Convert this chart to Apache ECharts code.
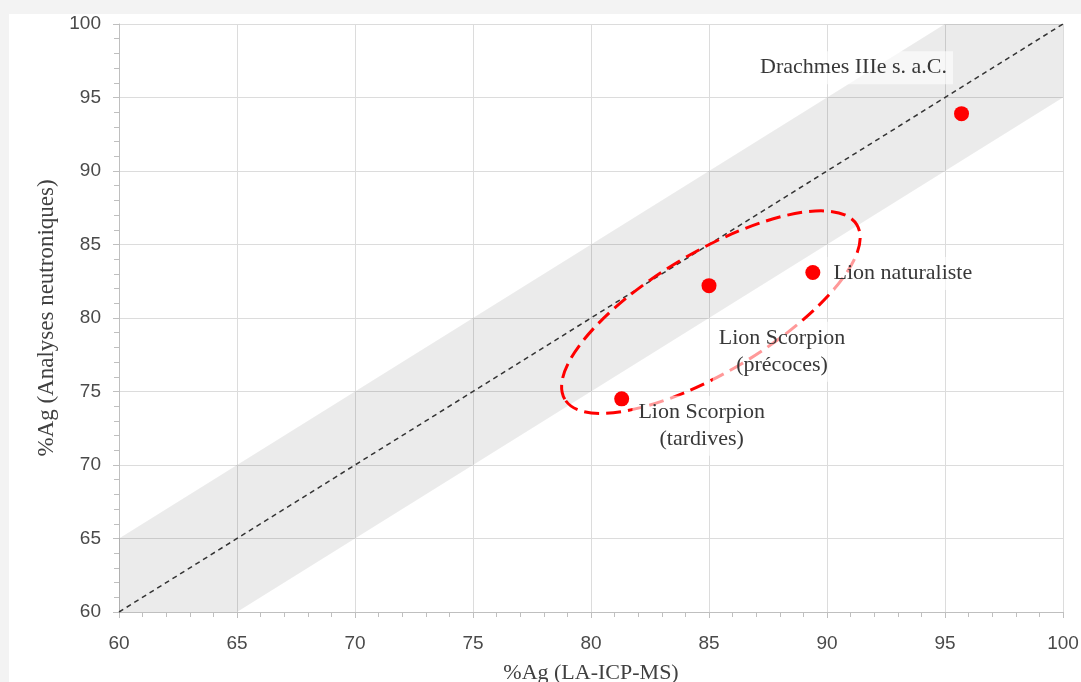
<!DOCTYPE html>
<html><head><meta charset="utf-8">
<script src="https://cdn.jsdelivr.net/npm/echarts@6/dist/echarts.min.js"></script>
<style>
html,body{margin:0;padding:0;background:#f3f3f3;width:1081px;height:682px;overflow:hidden}
#c{position:absolute;left:9px;top:14px;width:1072px;height:668px;background:#fff}
</style></head><body><div id="c"></div>
<script>
// ---- data ----
const pointsX = [95.7, 89.4, 85.0, 81.3];
const pointsY = [93.9, 83.1, 82.2, 74.5];
const pointLabels = ['Drachmes IIIe s. a.C.', 'Lion naturaliste', 'Lion Scorpion\n(précoces)', 'Lion Scorpion\n(tardives)'];
const identityLine = [[60, 60], [100, 100]];
const bandPolygon = [[60, 60], [60, 65], [95, 100], [100, 100], [100, 95], [65, 60]];
const ellipseCenter = [85.08, 80.4];
const ellipseMajorEnd = [91.27, 86.33];
const ellipseMinorEnd = [86.39, 76.9];
const xName = '%Ag (LA-ICP-MS)';
const yName = '%Ag (Analyses neutroniques)';

// ---- layout (label offsets in px) ----
const labelOffsets = [[-108, -46], [90, 1], [73, 66], [80, 27]];

const chart = echarts.init(document.getElementById('c'));
const axisCommon = {
  type: 'value', min: 60, max: 100, interval: 5,
  axisLine: { show: true, lineStyle: { color: '#bfbfbf', width: 1 } },
  axisTick: { show: true, length: 6, lineStyle: { color: '#bfbfbf' } },
  minorTick: { show: true, splitNumber: 5, length: 5, lineStyle: { color: '#bfbfbf' } },
  splitLine: { show: true, lineStyle: { color: '#dcdcdc', width: 1 } },
  axisLabel: { fontFamily: 'Liberation Sans', fontSize: 19, color: '#4a4a4a', showMinLabel: true, showMaxLabel: true },
  nameLocation: 'middle',
  nameTextStyle: { fontFamily: 'Liberation Serif', fontSize: 22, color: '#404040' }
};
chart.setOption({
  animation: false,
  backgroundColor: '#ffffff',
  grid: { left: 110, right: 18, top: 10, bottom: 70, outerBoundsMode: 'none', containLabel: false },
  xAxis: Object.assign({}, axisCommon, {
    name: xName, nameGap: 50,
    axisLabel: Object.assign({}, axisCommon.axisLabel, { margin: 22 })
  }),
  yAxis: Object.assign({}, axisCommon, {
    name: yName, nameGap: 56,
    nameTextStyle: { fontFamily: 'Liberation Serif', fontSize: 23, color: '#404040' },
    axisLabel: Object.assign({}, axisCommon.axisLabel, { margin: 18 })
  }),
  series: [
    {
      type: 'custom', z: 1, silent: true,
      data: [0],
      renderItem: function (params, api) {
        const pts = bandPolygon.map(p => api.coord(p));
        return { type: 'polygon', shape: { points: pts }, style: { fill: 'rgba(0,0,0,0.08)' } };
      }
    },
    {
      type: 'line', z: 2, data: identityLine, symbol: 'none', silent: true,
      lineStyle: { color: '#333333', width: 1.5, type: [5, 4] }
    },
    {
      type: 'custom', z: 3, silent: true,
      data: [0],
      renderItem: function (params, api) {
        const c = api.coord(ellipseCenter);
        const a = api.coord(ellipseMajorEnd);
        const b = api.coord(ellipseMinorEnd);
        const rx = Math.hypot(a[0] - c[0], a[1] - c[1]);
        const ry = Math.hypot(b[0] - c[0], b[1] - c[1]);
        const ang = Math.atan2(-(a[1] - c[1]), a[0] - c[0]);
        return {
          type: 'ellipse',
          shape: { cx: c[0], cy: c[1], rx: rx, ry: ry },
          rotation: ang, originX: c[0], originY: c[1],
          style: { fill: 'none', stroke: '#ff0000', lineWidth: 3, lineDash: [15, 7] }
        };
      }
    },
    {
      type: 'scatter', z: 4, symbolSize: 15,
      itemStyle: { color: '#ff0000', opacity: 1 },
      label: {
        show: true, position: 'inside', formatter: '{b}',
        fontFamily: 'Liberation Serif', fontSize: 22, lineHeight: 27, color: '#383838',
        backgroundColor: 'rgba(255,255,255,0.6)', padding: [3, 6]
      },
      data: pointsX.map((x, i) => ({ value: [x, pointsY[i]], name: pointLabels[i], label: { offset: labelOffsets[i] } }))
    }
  ]
});
</script></body></html>
